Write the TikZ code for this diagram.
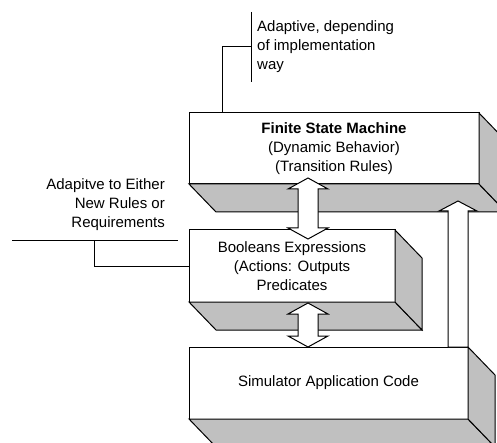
\documentclass[tikz,border=0pt]{standalone}
\usepackage{fontspec}
\setmainfont{Liberation Sans}
\usetikzlibrary{calc}
\definecolor{sidegray}{HTML}{C0C0C0}
\begin{document}
\begin{tikzpicture}[x=1pt,y=-1pt,
  txt/.style={font=\fontsize{15}{19}\selectfont, inner sep=0pt},
  face/.style={txt, draw=black, fill=white, line width=1pt, outer sep=0pt,
    align=center, anchor=north west},
  sideface/.style={draw=black, fill=sidegray, line width=1pt, line join=miter},
  lead/.style={draw=black, line width=1pt},
  blockdbl/.style={draw=black, fill=white, line width=1pt, line join=miter,
    to path={-- ($(\tikztostart)+(20,11)$) -- ($(\tikztostart)+(10,11)$)
      -- ($(\tikztotarget)+(10,-11)$) -- ($(\tikztotarget)+(20,-11)$)
      -- (\tikztotarget) -- ($(\tikztotarget)+(-20,-11)$)
      -- ($(\tikztotarget)+(-10,-11)$) -- ($(\tikztostart)+(-10,11)$)
      -- ($(\tikztostart)+(-20,11)$) -- cycle}},
  blockup/.style={draw=black, fill=white, line width=1pt, line join=miter,
    to path={-- ($(\tikztostart)+(-10,0)$) -- ($(\tikztotarget)+(-10,10)$)
      -- ($(\tikztotarget)+(-19,10)$) -- (\tikztotarget)
      -- ($(\tikztotarget)+(19,10)$) -- ($(\tikztotarget)+(10,10)$)
      -- ($(\tikztostart)+(10,0)$) -- cycle}}]
\useasboundingbox (0,0) rectangle (497,443);
\clip (0,0) rectangle (497,443);

% front faces of the three layers
\node[face, minimum width=290, minimum height=71] (fsm) at (189,113)
  {\textbf{Finite State Machine}\\(Dynamic Behavior)\\(Transition Rules)};
\node[face, minimum width=206, minimum height=72] (bool) at (189,230)
  {Booleans Expressions\\(Actions: Outputs\\Predicates};
\node[face, minimum width=279, minimum height=72] (sim) at (189,347)
  {Simulator Application Code};

% extruded bottom and right sides
\foreach \n in {fsm,bool,sim}{
  \draw[sideface] (\n.south west) -- (\n.south east)
    -- ($(\n.south east)+(27,28)$) -- ($(\n.south west)+(27,28)$) -- cycle;
  \draw[sideface] (\n.north east) -- ($(\n.north east)+(27,28)$)
    -- ($(\n.south east)+(27,28)$) -- (\n.south east) -- cycle;
}

% block arrows between the layers
\coordinate (a1top) at (308,178);
\coordinate (a1bot) at (308,239);
\coordinate (a2top) at (308,303);
\coordinate (a2bot) at (308,347);
\coordinate (a3foot) at (458,347);
\coordinate (a3tip) at (458,201);
\draw[blockdbl] (a1top) to (a1bot);
\draw[blockdbl] (a2top) to (a2bot);
\draw[blockup] (a3foot) to (a3tip);

% annotation on top (base anchor sits on the last line)
\coordinate (tbartop) at (251,12);
\coordinate (tbarbot) at (251,82);
\coordinate (tjoint) at (222,47);
\draw[lead] (tbartop) -- (tbarbot);
\draw[lead] (fsm.north -| tjoint) -- (tjoint) -- (tjoint -| tbartop);
\node[txt, anchor=base west, align=left] (tnote) at (257,69.5)
  {Adaptive, depending\\of implementation\\way};

% annotation on the left
\coordinate (lbarL) at (12,241);
\coordinate (lbarR) at (178,241);
\coordinate (ljoint) at (94,241);
\draw[lead] (lbarL) -- (lbarR);
\draw[lead] (ljoint) -- (ljoint |- bool.west) -- (bool.west);
\node[txt, anchor=base east, align=right] (lnote) at (165,228)
  {Adapitve to Either\\New Rules or\\Requirements};
\end{tikzpicture}
\end{document}
